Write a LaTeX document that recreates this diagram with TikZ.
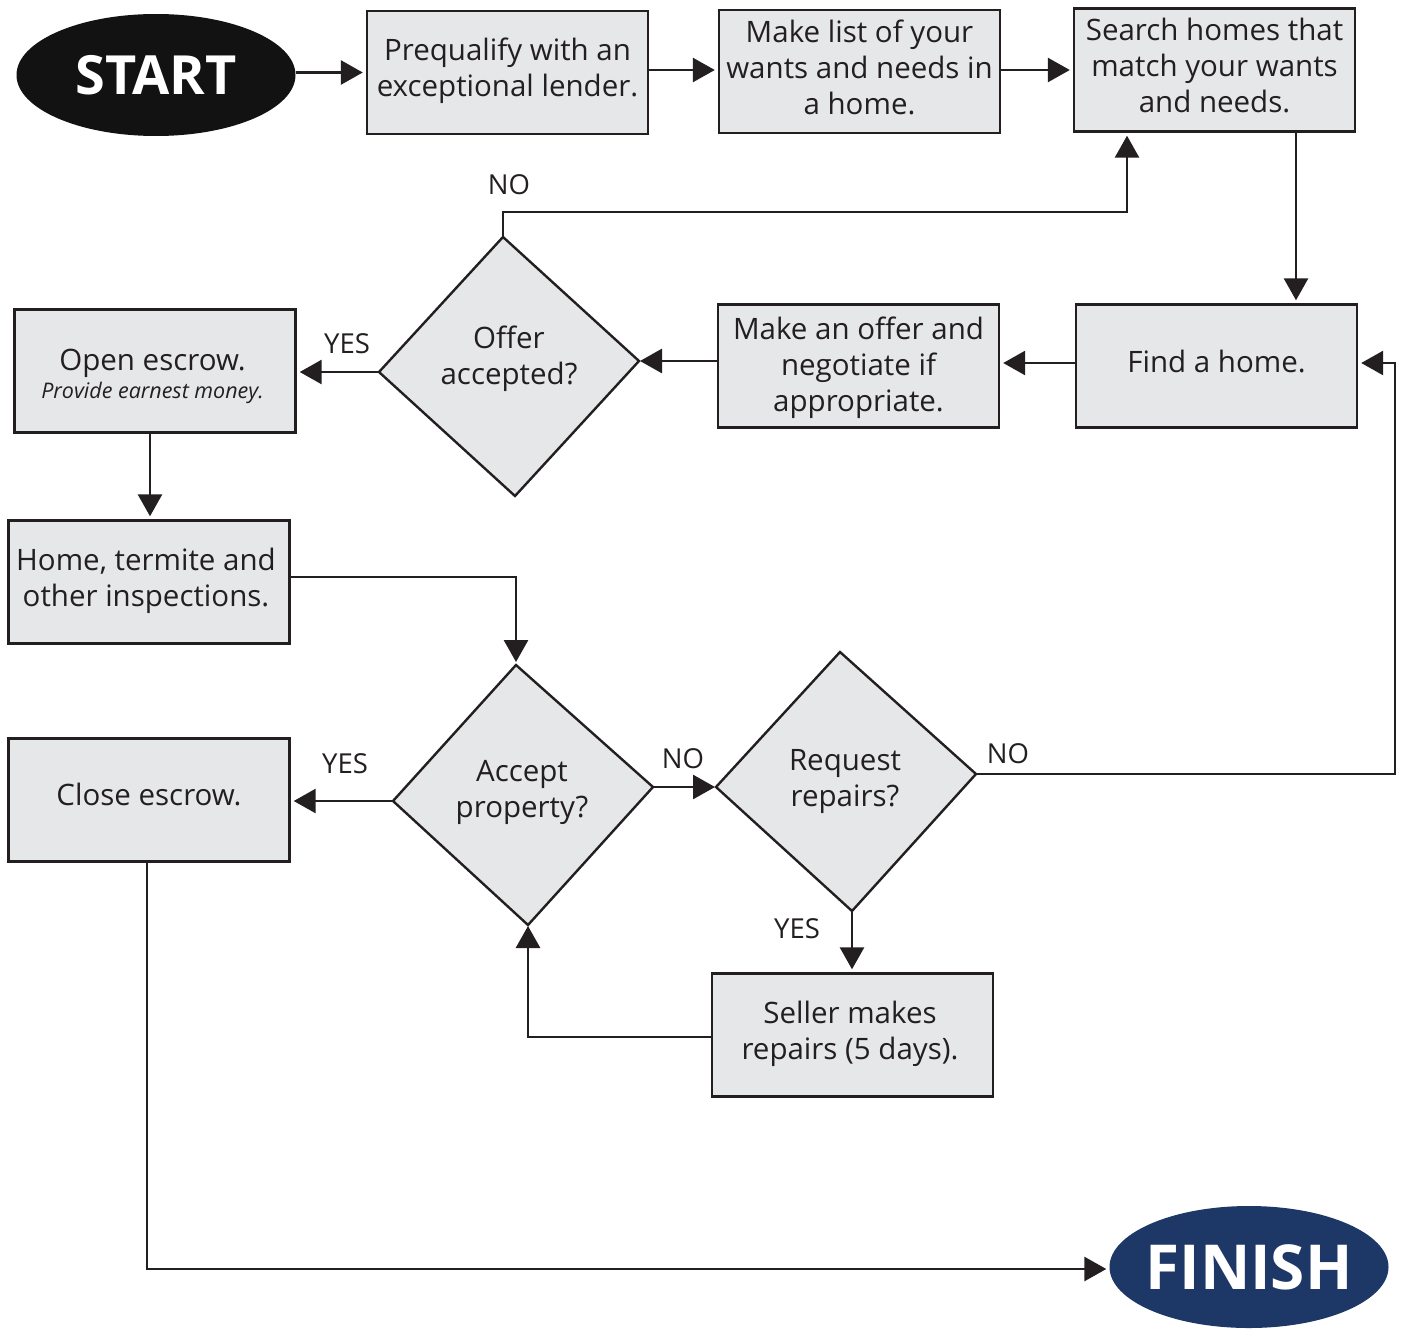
\documentclass[tikz,border=0pt]{standalone}
\usepackage{fontspec}
\setmainfont{Open Sans}
\usetikzlibrary{arrows.meta,shapes.geometric}
\definecolor{ink}{HTML}{231F20}
\definecolor{boxgray}{HTML}{E6E7E8}
\definecolor{navy}{HTML}{1D3767}
\begin{document}
\begin{tikzpicture}[x=1pt,y=-1pt,
 box/.style={draw=ink, line width=2.4pt, fill=boxgray, minimum width=281pt, minimum height=123pt, inner sep=0pt},
 txt/.style={align=center, text=ink, font=\fontsize{29.5}{36}\selectfont, inner sep=0pt},
 lbl/.style={text=ink, font=\fontsize{27.5}{30}\selectfont, inner sep=0pt},
 dia/.style={draw=ink, line width=2.4pt, fill=boxgray, line join=miter},
 arr/.style={draw=ink, line width=2.8pt, -{Triangle[length=22pt,width=24pt]}, shorten >=3pt},
 term/.style={ellipse, inner sep=0pt, minimum width=279pt, minimum height=122pt},
 termtxt/.style={text=white, inner sep=0pt},
]
\useasboundingbox (0,0) rectangle (1402,1330);
% terminals
\node[term, fill=black!93] (start) at (156,75) {};
\node[termtxt, font=\fontsize{54}{54}\bfseries\selectfont] (startT) at (start.center) {START};
\node[term, fill=navy] (fin) at (1249,1267) {};
\node[termtxt, font=\fontsize{62}{62}\bfseries\selectfont] (finT) at (fin.center) {FINISH};
% boxes
\node[box] (pq) at (507.5,72.5) {};
\node[txt] (pqT) at (507.5,70.5) {Prequalify with an\\exceptional lender.};
\node[box] (ml) at (859.5,71.5) {};
\node[txt] (mlT) at (859.5,67.5) {Make list of your\\wants and needs in\\a home.};
\node[box] (sh) at (1214.5,70) {};
\node[txt] (shT) at (1214.5,65.5) {Search homes that\\match your wants\\and needs.};
\node[box] (fh) at (1216.5,366) {};
\node[txt] (fhT) at (1216.5,361) {Find a home.};
\node[box] (mo) at (858.5,366) {};
\node[txt] (moT) at (858.5,367.5) {Make an offer and\\negotiate if\\appropriate.};
\node[box] (os) at (155,371) {};
\node[txt] (osT) at (152.5,363) {Open escrow.};
\node[txt, font=\fontsize{21.5}{24}\itshape\selectfont] (osI) at (152.5,393) {Provide earnest money.};
\node[box] (ht) at (149,582) {};
\node[txt] (htT) at (146,580.5) {Home, termite and\\other inspections.};
\node[box] (ce) at (149,800) {};
\node[txt] (ceT) at (149,794) {Close escrow.};
\node[box] (sm) at (852.5,1035) {};
\node[txt] (smT) at (850,1034) {Seller makes\\repairs (5 days).};
% diamonds
\coordinate (oaT) at (503,237); \coordinate (oaR) at (639,361);
\coordinate (oaB) at (515,496); \coordinate (oaL) at (379,372);
\draw[dia] (oaT) -- (oaR) -- (oaB) -- (oaL) -- cycle;
\node[txt] (oa) at (509,359) {Offer\\accepted?};
\coordinate (apT) at (516,665); \coordinate (apR) at (653,787);
\coordinate (apB) at (528,925); \coordinate (apL) at (393,801);
\draw[dia] (apT) -- (apR) -- (apB) -- (apL) -- cycle;
\node[txt] (ap) at (522,792) {Accept\\property?};
\coordinate (rrT) at (840,652); \coordinate (rrR) at (976,774);
\coordinate (rrB) at (852,911); \coordinate (rrL) at (716,787);
\draw[dia] (rrT) -- (rrR) -- (rrB) -- (rrL) -- cycle;
\node[txt] (rr) at (845,782) {Request\\repairs?};
% connectors
\draw[arr] (start.east |- pq.west) -- (pq.west);
\draw[arr] (pq.east |- 0,70) -- (ml.west |- 0,70);
\draw[arr] (ml.east |- 0,70) -- (sh.west |- 0,70);
\draw[arr] (1296,0 |- sh.south) -- (1296,0 |- fh.north);
\draw[arr] (oaT) -- (oaT |- 0,212) -- (1127,212) -- (1127,0 |- sh.south);
\draw[arr] (fh.west |- 0,363) -- (mo.east |- 0,363);
\draw[arr, shorten >=1pt] (mo.west |- 0,361) -- (oaR);
\draw[arr] (oaL) -- (oaL -| os.east);
\draw[arr] (150,0 |- os.south) -- (150,0 |- ht.north);
\draw[arr] (ht.east |- 0,577) -- (apT |- 0,577) -- (apT);
\draw[arr, shorten >=1pt] (apR) -- (rrL);
\draw[arr] (rrR) -- (1395,774) -- (1395,363) -- (fh.east |- 0,363);
\draw[arr] (rrB) -- (rrB |- sm.north);
\draw[arr, shorten >=1pt] (sm.west |- 0,1037) -- (apB |- 0,1037) -- (apB);
\draw[arr] (apL) -- (apL -| ce.east);
\draw[arr] (147,0 |- ce.south) -- (147,1269) -- (fin.west |- 0,1269);
% labels
\node[lbl] (l1) at (509,185) {NO};
\node[lbl] (l2) at (347,344) {YES};
\node[lbl] (l3) at (345,764) {YES};
\node[lbl] (l4) at (683,759) {NO};
\node[lbl] (l5) at (1008,754) {NO};
\node[lbl] (l6) at (797,929) {YES};
\end{tikzpicture}
\end{document}
